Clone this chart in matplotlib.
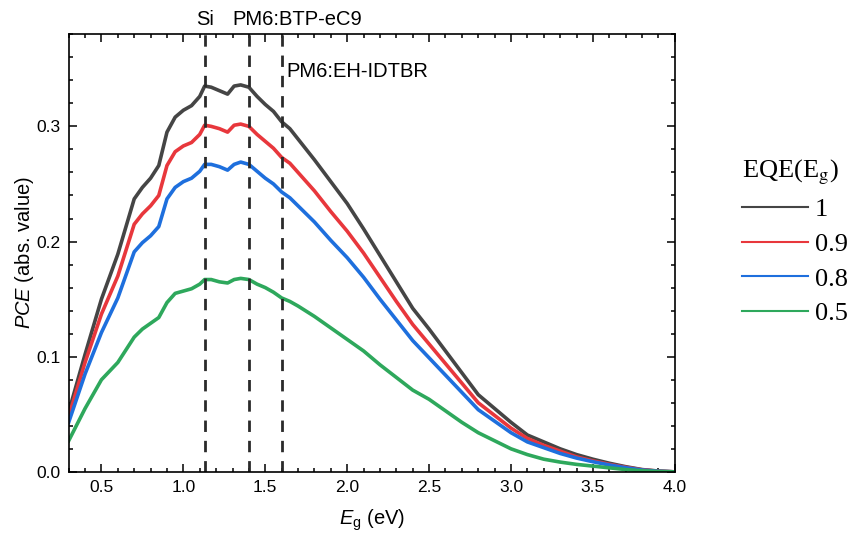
import numpy as np
import matplotlib
matplotlib.use('Agg')
import matplotlib.pyplot as plt
from matplotlib.ticker import MultipleLocator
import matplotlib.transforms as mtransforms

plt.rcParams['font.family'] = ['Liberation Sans', 'DejaVu Sans']
plt.rcParams['mathtext.fontset'] = 'custom'
plt.rcParams['mathtext.rm'] = 'Liberation Sans'
plt.rcParams['mathtext.it'] = 'Liberation Sans:italic'

# band gap grid (eV)
eg = [0.3, 0.4, 0.5, 0.6, 0.7, 0.75, 0.8, 0.85, 0.9, 0.95, 1.0, 1.05, 1.1, 1.13,
      1.17, 1.22, 1.27, 1.31, 1.35, 1.40, 1.45, 1.5, 1.55, 1.6, 1.65, 1.7, 1.8,
      1.9, 2.0, 2.1, 2.2, 2.3, 2.4, 2.5, 2.6, 2.7, 2.8, 2.9, 3.0, 3.1, 3.2, 3.3,
      3.4, 3.5, 3.6, 3.7, 3.8, 3.9, 4.0]

# PCE for EQE = 1, 0.9, 0.8, 0.5
pce_10 = [0.052, 0.102, 0.150, 0.189, 0.237, 0.247, 0.255, 0.266, 0.295, 0.308,
          0.314, 0.318, 0.326, 0.335, 0.334, 0.331, 0.328, 0.335, 0.336, 0.334,
          0.326, 0.319, 0.313, 0.304, 0.298, 0.289, 0.271, 0.252, 0.233, 0.211,
          0.188, 0.165, 0.142, 0.124, 0.105, 0.086, 0.067, 0.055, 0.043, 0.032,
          0.026, 0.020, 0.015, 0.011, 0.0075, 0.0045, 0.002, 0.0007, 0.0]
pce_09 = [0.048, 0.095, 0.137, 0.170, 0.215, 0.224, 0.231, 0.240, 0.266, 0.278,
          0.283, 0.286, 0.293, 0.301, 0.300, 0.298, 0.295, 0.301, 0.302, 0.300,
          0.293, 0.287, 0.281, 0.273, 0.268, 0.260, 0.244, 0.226, 0.209, 0.190,
          0.169, 0.148, 0.128, 0.111, 0.094, 0.077, 0.060, 0.049, 0.038, 0.029,
          0.023, 0.018, 0.013, 0.0095, 0.0065, 0.004, 0.0018, 0.0006, 0.0]
pce_08 = [0.043, 0.085, 0.121, 0.151, 0.191, 0.199, 0.205, 0.213, 0.237, 0.247,
          0.252, 0.255, 0.261, 0.267, 0.267, 0.265, 0.262, 0.267, 0.269, 0.267,
          0.261, 0.255, 0.250, 0.243, 0.238, 0.231, 0.217, 0.201, 0.186, 0.169,
          0.150, 0.132, 0.114, 0.099, 0.084, 0.069, 0.054, 0.044, 0.034, 0.026,
          0.021, 0.016, 0.012, 0.0088, 0.006, 0.0036, 0.0016, 0.0005, 0.0]
pce_05 = [0.027, 0.055, 0.080, 0.095, 0.117, 0.124, 0.129, 0.134, 0.147, 0.155,
          0.157, 0.159, 0.163, 0.167, 0.167, 0.165, 0.164, 0.167, 0.168, 0.167,
          0.163, 0.160, 0.156, 0.151, 0.148, 0.144, 0.135, 0.125, 0.115, 0.105,
          0.093, 0.082, 0.071, 0.063, 0.053, 0.043, 0.034, 0.027, 0.020, 0.015,
          0.011, 0.0085, 0.0065, 0.005, 0.0035, 0.002, 0.001, 0.0003, 0.0]

labels = ['1', '0.9', '0.8', '0.5']
colors = ['#454545', '#e8373c', '#1e6fdd', '#2ea85c']

# reference band gaps
ref_eg = [1.13, 1.40, 1.60]

fig = plt.figure(figsize=(8.51, 5.35), dpi=100)
ax = fig.add_axes([0.0807, 0.118, 0.7123, 0.818])

for ys, c in zip([pce_10, pce_09, pce_08, pce_05], colors):
    ax.plot(eg, ys, color=c, lw=2.6, solid_joinstyle='round')

for x in ref_eg:
    ax.axvline(x, color='#2a2a2a', lw=2.0, ls=(0, (4.1, 3.2)))

trans = mtransforms.blended_transform_factory(ax.transData, ax.transAxes)
ax.text(ref_eg[0], 1.033, 'Si', transform=trans, ha='center', va='center', fontsize=14.5)
ax.text(1.30, 1.033, 'PM6:BTP-eC9', transform=trans, ha='left', va='center', fontsize=14.5)
ax.text(1.63, 0.914, 'PM6:EH-IDTBR', transform=trans, ha='left', va='center', fontsize=14.5)

ax.set_xlim(0.3, 4.0)
ax.set_ylim(0, 0.38)
ax.xaxis.set_major_locator(MultipleLocator(0.5))
ax.xaxis.set_minor_locator(MultipleLocator(0.1))
ax.yaxis.set_major_locator(MultipleLocator(0.1))
ax.yaxis.set_minor_locator(MultipleLocator(0.02))
ax.tick_params(which='both', direction='in', top=True, right=True, labelsize=12.5,
               width=1.1, pad=6)
ax.tick_params(which='major', length=6)
ax.tick_params(which='minor', length=3)
for s in ax.spines.values():
    s.set_linewidth(1.2)

ax.set_xlabel('$E_\\mathrm{g}$ (eV)', fontsize=14.5, labelpad=9)
ax.set_ylabel('$PCE$ (abs. value)', fontsize=14.5, labelpad=0)

handles = [plt.Line2D([], [], color=c, lw=1.5) for c in colors]
leg = fig.legend(handles, labels, loc='upper left', bbox_to_anchor=(0.844, 0.75),
                 frameon=False, title='EQE(E$_{\\mathrm{g}}$)',
                 prop={'family': 'Liberation Serif', 'size': 19},
                 handlelength=2.5, handletextpad=0.25, labelspacing=0.42,
                 alignment='left')
leg.get_title().set_fontfamily('Liberation Serif')
leg.get_title().set_fontsize(19)
leg.get_title().set_math_fontfamily('stix')

fig.savefig('out.png', dpi=100)
